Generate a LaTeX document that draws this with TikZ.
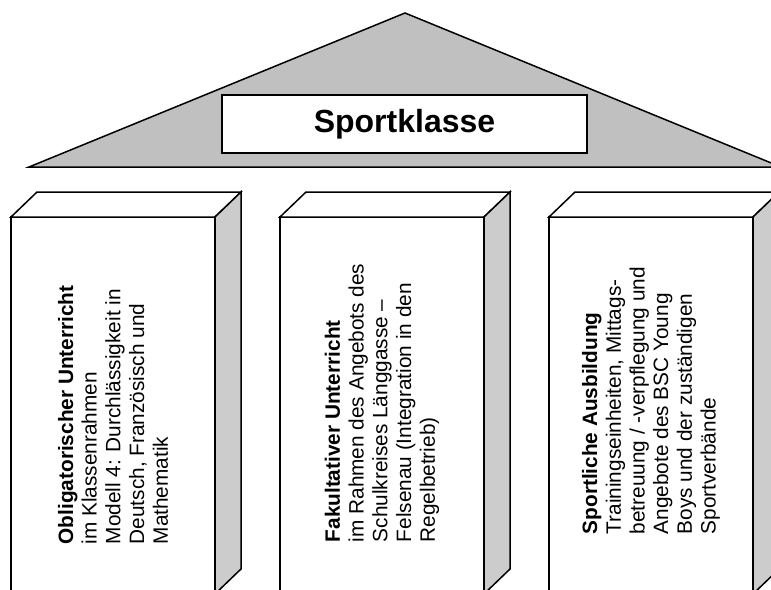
\documentclass[tikz,border=0pt]{standalone}
\usepackage{fontspec}
\setmainfont{Liberation Sans}
\definecolor{roofgray}{HTML}{C0C0C0}
\definecolor{sidegray}{HTML}{CCCCCC}

\begin{document}
\begin{tikzpicture}[x=1pt,y=-1pt,line width=1.5pt,
    pillartext/.style={rotate=90,anchor=west,inner sep=0pt,align=left,
      font=\fontsize{20.8}{23.7}\selectfont}]
    \useasboundingbox (0,0) rectangle (771,589);
    \clip (0,0) rectangle (771,589);

    % roof
    \draw[fill=roofgray] (29,167) -- (405,13) -- (781,167) -- cycle;
    \node[draw,fill=white,minimum width=365pt,minimum height=58pt,inner sep=0pt,
      font=\fontsize{32}{38}\selectfont\bfseries] (title) at (404.5,124) {Sportklasse};

    % pillars
    \foreach \x in {11,280,549} {
      \draw[fill=white] (\x,217) rectangle (\x+204,594);
      \draw[fill=white] (\x,217) -- (\x+26,192) -- (\x+230,192) -- (\x+204,217) -- cycle;
      \draw[fill=sidegray] (\x+204,217) -- (\x+230,192) -- (\x+230,569) -- (\x+204,594) -- cycle;
    }

    \node[pillartext] (oblig) at (113,545) {\textbf{Obligatorischer Unterricht}\\im Klassenrahmen\\Modell 4: Durchlässigkeit in\\Deutsch, Französisch und\\Mathematik};
    \node[pillartext] (fakult) at (382,543) {\textbf{Fakultativer Unterricht}\\im Rahmen des Angebots des\\Schulkreises Länggasse --\\Felsenau (Integration in den\\Regelbetrieb)};
    \node[pillartext] (sport) at (651,535) {\textbf{Sportliche Ausbildung}\\Trainingseinheiten, Mittags-\\betreuung / -verpflegung und\\Angebote des BSC Young\\Boys und der zuständigen\\Sportverbände};

\end{tikzpicture}
\end{document}
